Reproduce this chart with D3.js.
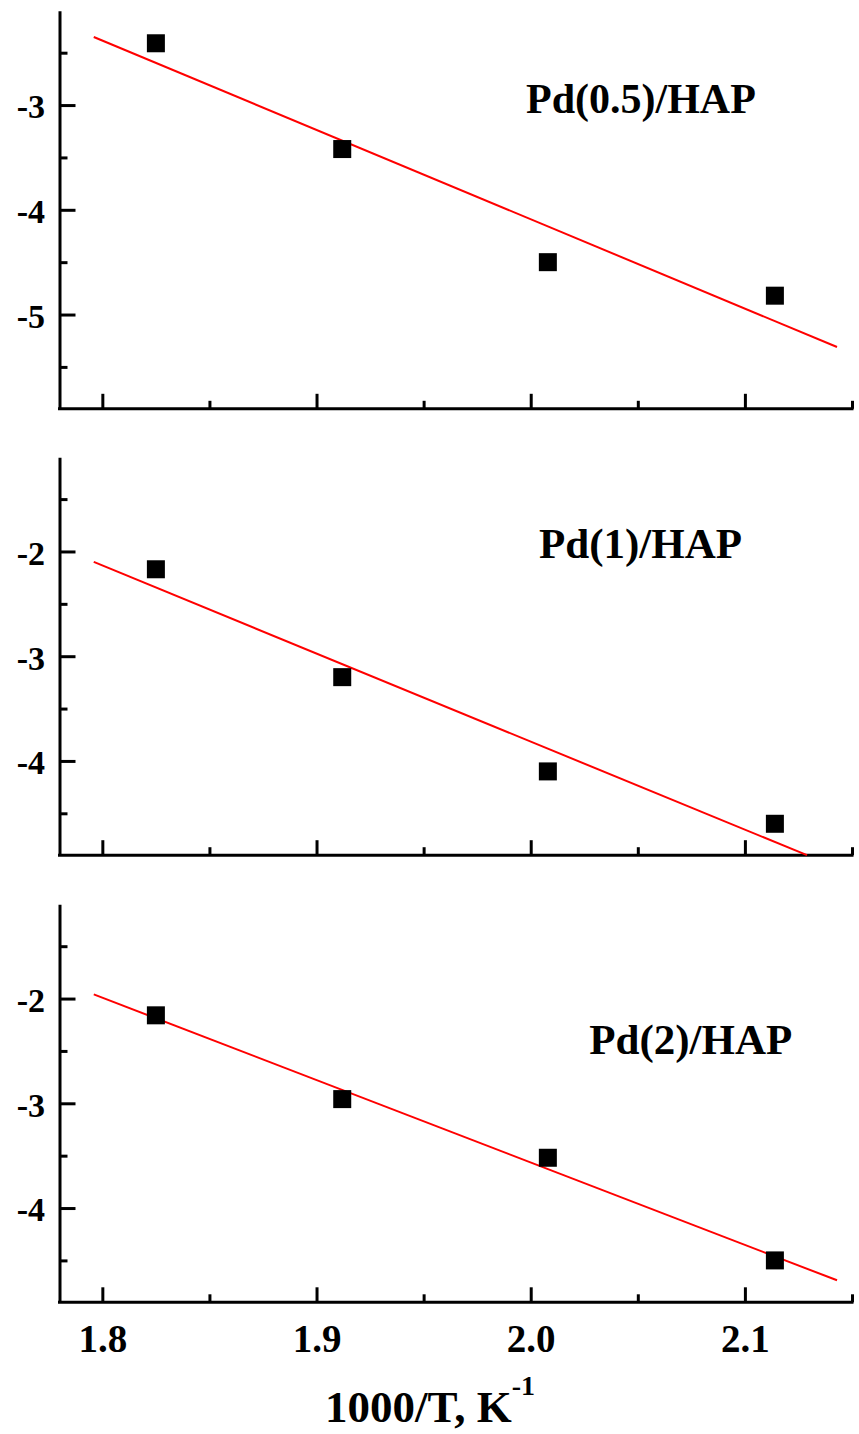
<!DOCTYPE html>
<html>
<head>
<meta charset="utf-8">
<script src="https://cdn.jsdelivr.net/npm/d3@7"></script>
<style>
  html, body { margin: 0; padding: 0; background: #fff; }
  svg { display: block; }
</style>
</head>
<body>
<script>
// Arrhenius plots for three Pd/HAP catalysts: ln k against 1000/T
const catalysts = ["Pd(0.5)/HAP", "Pd(1)/HAP", "Pd(2)/HAP"];
const invTemp = [1.825, 1.912, 2.008, 2.114];          // 1000/T, K^-1
const lnK_Pd05 = [-2.41, -3.42, -4.50, -4.82];
const lnK_Pd1  = [-2.17, -3.20, -4.10, -4.60];
const lnK_Pd2  = [-2.16, -2.96, -3.52, -4.50];
// linear fits, start and end points (x, y)
const fitX_Pd05 = [1.796, 2.143], fitY_Pd05 = [-2.35, -5.31];
const fitX_Pd1  = [1.796, 2.129], fitY_Pd1  = [-2.10, -4.90];
const fitX_Pd2  = [1.796, 2.143], fitY_Pd2  = [-1.96, -4.69];
// axis ranges and ticks
const xDomain = [1.78, 2.15];
const xMajorTicks = [1.8, 1.9, 2.0, 2.1];
const xMinorTicks = [1.85, 1.95, 2.05, 2.15];
const yDomains = [[-5.9, -2.1], [-4.9, -1.1], [-4.9, -1.1]];
const yMajorTicks = [[-3, -4, -5], [-2, -3, -4], [-2, -3, -4]];
const yMinorTicks = [[-2.5, -3.5, -4.5, -5.5], [-1.5, -2.5, -3.5, -4.5], [-1.5, -2.5, -3.5, -4.5]];
const xTitle = "1000/T, K";
const xTitleSup = "-1";

const series = [
  { name: catalysts[0], y: lnK_Pd05, fx: fitX_Pd05, fy: fitY_Pd05 },
  { name: catalysts[1], y: lnK_Pd1,  fx: fitX_Pd1,  fy: fitY_Pd1  },
  { name: catalysts[2], y: lnK_Pd2,  fx: fitX_Pd2,  fy: fitY_Pd2  }
];

const FONT = "'Liberation Serif', 'Times New Roman', Times, serif";
const W = 859, H = 1434;
const left = 59.5, right = 852;
const panelTops = [10.8, 457.2, 904.3];
const panelH = 398;
const labelPos = [[526, 102.5], [539, 101.1], [589.3, 149.7]];

const svg = d3.select("body").append("svg")
  .attr("width", W).attr("height", H)
  .attr("font-family", FONT).attr("font-weight", "bold");
svg.append("rect").attr("width", W).attr("height", H).attr("fill", "#fff");

const x = d3.scaleLinear().domain(xDomain).range([left, right]);

function styleAxis(a) {
  a.attr("font-family", FONT).attr("font-weight", "bold");
  a.selectAll("line").attr("stroke", "#000").attr("stroke-width", 3);
  a.select(".domain").attr("stroke", "#000").attr("stroke-width", 3);
  a.selectAll("text").attr("fill", "#000");
}

series.forEach((s, i) => {
  const top = panelTops[i], bottom = top + panelH;
  const y = d3.scaleLinear().domain(yDomains[i]).range([bottom, top]);
  const g = svg.append("g");

  // y axis: major ticks with labels, minor ticks without
  const yMaj = g.append("g").attr("transform", `translate(${left},0)`)
    .call(d3.axisLeft(y).tickValues(yMajorTicks[i]).tickSizeInner(-16).tickSizeOuter(0)
      .tickPadding(14.5).tickFormat(d => String(d)));
  const yMin = g.append("g").attr("transform", `translate(${left},0)`)
    .call(d3.axisLeft(y).tickValues(yMinorTicks[i]).tickSizeInner(-8).tickSizeOuter(0).tickFormat(""));
  yMin.select(".domain").remove();
  styleAxis(yMaj); styleAxis(yMin);
  yMaj.selectAll("text").attr("font-size", 34).attr("dy", "0.38em");

  // x axis along the panel bottom
  const xMaj = g.append("g").attr("transform", `translate(0,${bottom})`)
    .call(d3.axisBottom(x).tickValues(xMajorTicks).tickSizeInner(-15).tickSizeOuter(0)
      .tickFormat(i === 2 ? d3.format(".1f") : ""));
  const xMin = g.append("g").attr("transform", `translate(0,${bottom})`)
    .call(d3.axisBottom(x).tickValues(xMinorTicks).tickSizeInner(-8).tickSizeOuter(0).tickFormat(""));
  xMin.select(".domain").remove();
  styleAxis(xMaj); styleAxis(xMin);
  xMaj.select(".domain").attr("d", `M${left - 1.5},0H${right + 1.5}`);
  xMaj.selectAll("text").attr("font-size", 39).attr("y", 50).attr("dy", 0);

  // linear fit
  g.append("path")
    .datum(s.fx.map((v, k) => [v, s.fy[k]]))
    .attr("d", d3.line().x(d => x(d[0])).y(d => y(d[1])))
    .attr("fill", "none").attr("stroke", "#ff0000").attr("stroke-width", 2);

  // data points
  const sz = 18;
  g.selectAll("rect.pt").data(invTemp.map((v, k) => [v, s.y[k]])).join("rect")
    .attr("class", "pt")
    .attr("x", d => x(d[0]) - sz / 2).attr("y", d => y(d[1]) - sz / 2)
    .attr("width", sz).attr("height", sz).attr("fill", "#000");

  // catalyst label
  g.append("text")
    .attr("x", labelPos[i][0]).attr("y", top + labelPos[i][1])
    .attr("font-size", i === 0 ? 42 : 43).attr("fill", "#000")
    .text(s.name);
});

// x axis title
const title = svg.append("text").attr("x", 325).attr("y", 1421.5)
  .attr("font-size", 45).attr("fill", "#000");
title.append("tspan").text(xTitle);
title.append("tspan").attr("font-size", 28).attr("dy", -27).text(xTitleSup);
</script>
</body>
</html>
